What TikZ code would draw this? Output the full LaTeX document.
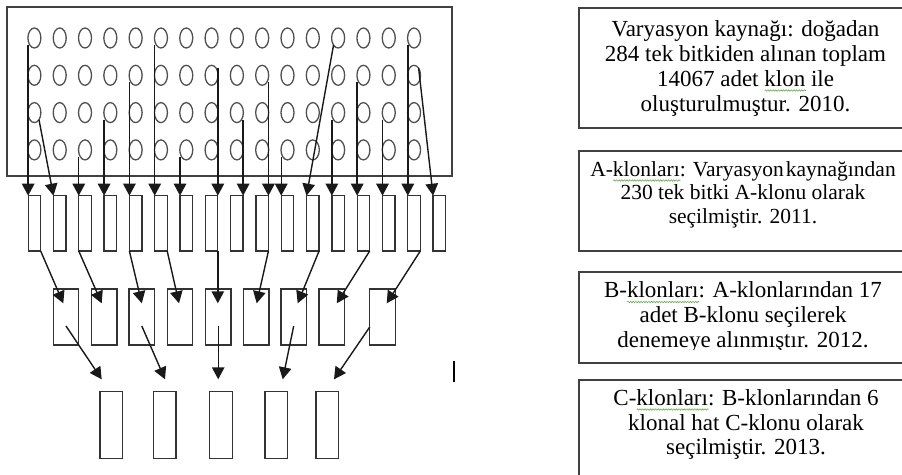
\documentclass[tikz,border=0pt]{standalone}
\usepackage{fontspec}
\setmainfont{Liberation Serif}
\usetikzlibrary{arrows.meta,shapes.geometric,calc,decorations.pathmorphing}

\definecolor{squiggreen}{RGB}{96,176,64}
\definecolor{framegray}{RGB}{64,64,64}
\definecolor{dotgray}{RGB}{80,80,80}

\tikzset{
  dot/.style={ellipse, draw=dotgray, line width=1.3pt, minimum width=13pt,
    minimum height=20pt, inner sep=0pt, outer sep=0pt},
  clonebox/.style={rectangle, draw=black!80, line width=1.3pt, inner sep=0pt, outer sep=0pt},
  abox/.style={clonebox, minimum width=12.5pt, minimum height=55.3pt},
  bbox/.style={clonebox, minimum width=25.5pt, minimum height=56pt},
  cbox/.style={clonebox, minimum width=22.5pt, minimum height=66.6pt},
  link/.style={draw=black!90, line width=1.4pt, -{Triangle[width=12.5pt,length=12pt]}},
  frame/.style={draw=framegray, line width=1.5pt},
  panel/.style={draw=framegray, line width=1.3pt},
  bigfont/.style={font=\fontsize{23}{25}\selectfont},
  smallfont/.style={font=\fontsize{21.5}{23}\selectfont},
  boxtext/.style={anchor=base, inner sep=0pt, bigfont},
  smalltext/.style={anchor=base, inner sep=0pt, smallfont},
  ghost/.style={anchor=base west, inner sep=0pt},
  spell/.style={draw=squiggreen, line width=0.6pt, decorate,
    decoration={snake, amplitude=0.7pt, segment length=2.6pt}},
}

\begin{document}
\begin{tikzpicture}[x=1pt,y=-1pt]
\useasboundingbox (0,0) rectangle (902,474);
\clip (0,0) rectangle (902,474);

% source population: 4 x 16 plants
\draw[frame] (7,7) rectangle (452,176);
\foreach \r in {1,...,4}
  \foreach \c in {1,...,16}
    \node[dot] (e-\r-\c) at ({34.4+25.31*(\c-1)}, {38+37.3*(\r-1)}) {};

% A-clones
\foreach \i in {1,...,17}
  \node[abox] (A\i) at ({34.4+25.31*(\i-1)}, 223.35) {};

% B-clones
\foreach \x [count=\k] in {66,104.2,141.8,180,218.2,256.3,293.7,331.8,382.5}
  \node[bbox] (B\k) at (\x,317) {};

% C-clones
\foreach \x [count=\k] in {111.3,164.7,221,276.3,327.3}
  \node[cbox] (C\k) at (\x,425) {};

% selection: plants -> A-clones
\foreach \a/\an/\src in {1/north west/e-1-1.south west, 3/north west/e-4-3.south west,
    4/north west/e-3-4.south west, 5/north west/e-2-5.south west,
    6/north west/e-1-6.south west, 7/north west/e-4-7.south west,
    8/north east/e-2-8.north east, 9/north east/e-3-9.south east,
    10/north east/e-2-10.south east, 11/north west/e-4-11.south west,
    13/north west/e-3-13.south west, 14/north west/e-2-14.south west,
    15/north west/e-3-15.south west, 16/north west/e-1-16.south west}
  \draw[link] (A\a.\an |- \src) -- (A\a.\an);
\draw[link] (e-3-1.south east) -- (A2.north west);
\draw[link] (e-1-13.south west) -- (A12.north west);
\draw[link] (e-2-16.north east) -- (A17.north west);

% selection: A-clones -> B-clones
\foreach \a/\an/\b/\dx in {1/south east/1/-2.7, 3/south west/2/-2.5,
    5/south west/3/0, 6/south east/4/-1, 10/south east/6/0.4,
    12/south east/7/4, 14/south east/8/5, 16/south east/9/4.2}
  \draw[link] (A\a.\an) -- ($(B\b.north)+(\dx,14.3)$);
\draw[link] (A8.south east) -- ($(A8.south east |- B5.north)+(0,14.3)$);

% selection: B-clones -> C-clones
\foreach \b/\c/\dx in {1/1/-9.6, 3/2/0.3, 7/4/6.4}
  \draw[link] ($(B\b.center)+(0,9)$) -- ($(C\c.north)+(\dx,-12.4)$);
\draw[link] ($(B5.center)+(0,9)$) -- ($(B5.center |- C3.north)+(0,-12.4)$);
\draw[link] ($(B9.west)+(0,10)$) -- ($(C5.north)+(6.7,-12.4)$);

% text cursor mark
\draw[line width=2pt] (454.3,361) -- (454.3,382);

% description panels
\draw[panel] (579,8) rectangle (915,128);
\draw[panel] (579,151) rectangle (915,251);
\draw[panel] (579,272) rectangle (915,363);
\draw[panel] (579,380) rectangle (915,490);

\node[boxtext] (t1a) at (745.5,36) {Varyasyon kaynağı: doğadan};
\node[boxtext] (t1b) at (745.5,61) {284 tek bitkiden alınan toplam};
\node[boxtext] (t1c) at (745.5,86) {14067 adet klon ile};
\node[boxtext] (t1d) at (745.5,111) {oluşturulmuştur. 2010.};

\node[smalltext] (t2a) at (743,176) {A-klonları: Varyasyon\hspace{0.1em}kaynağından};
\node[smalltext] (t2b) at (743,199.5) {230 tek bitki A-klonu olarak};
\node[smalltext] (t2c) at (743,223) {seçilmiştir. 2011.};

\node[boxtext] (t3a) at (743,297.5) {B-klonları: A-klonlarından 17};
\node[boxtext] (t3b) at (743,322.5) {adet B-klonu seçilerek};
\begin{scope}
  \clip (585,325) rectangle (900,349);
  \node[boxtext] (t3c) at (743,347.5) {denemeye alınmıştır. 2012.};
\end{scope}

\node[boxtext] (t4a) at (746,405) {C-klonları: B-klonlarından 6};
\node[boxtext] (t4b) at (746,430) {klonal hat C-klonu olarak};
\node[boxtext] (t4c) at (746,454) {seçilmiştir. 2013.};

% spell-check marks under the flagged words
\path (t1c.base west) node[ghost, bigfont] (k1) {\phantom{14067 adet\ }};
\path (k1.base east) node[ghost, bigfont] (w1) {\phantom{klon}};
\path (t2a.base west) node[ghost, smallfont] (k2) {\phantom{A-}};
\path (k2.base east) node[ghost, smallfont] (w2) {\phantom{klonları}};
\path (t3a.base west) node[ghost, bigfont] (k3) {\phantom{B-}};
\path (k3.base east) node[ghost, bigfont] (w3) {\phantom{klonları}};
\path (t4a.base west) node[ghost, bigfont] (k4) {\phantom{C-}};
\path (k4.base east) node[ghost, bigfont] (w4) {\phantom{klonları}};
\foreach \w in {w1,w2,w3,w4}
  \draw[spell] ($(\w.base west)+(0,4.5)$) -- ($(\w.base east)+(0,4.5)$);
\end{tikzpicture}
\end{document}
